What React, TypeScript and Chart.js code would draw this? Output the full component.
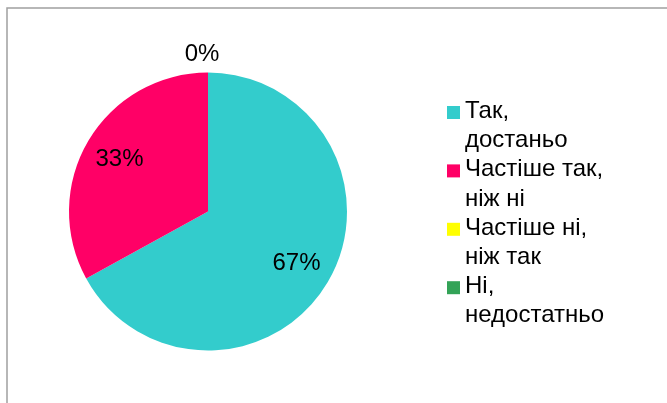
import React, { useEffect, useRef } from "react";
import { Chart, registerables } from "chart.js";

Chart.register(...registerables);

const categories: string[][] = [
  ["Так,", "достаньо"],
  ["Частіше так,", "ніж ні"],
  ["Частіше ні,", "ніж так"],
  ["Ні,", "недостатньо"],
];
const values: number[] = [67, 33, 0, 0];
const colors: string[] = ["#33CCCC", "#FF0066", "#FFFF00", "#33A357"];

const FONT = '24px "Liberation Sans", Arial, sans-serif';

const framePlugin = {
  id: "frame",
  beforeDraw(chart: any) {
    const ctx = chart.ctx;
    ctx.save();
    ctx.fillStyle = "#ffffff";
    ctx.fillRect(0, 0, chart.width, chart.height);
    ctx.strokeStyle = "#a0a0a0";
    ctx.lineWidth = 1.5;
    ctx.strokeRect(7, 8, chart.width + 20, chart.height + 20);
    ctx.restore();
  },
};

const labelPlugin = {
  id: "pctLabels",
  afterDatasetsDraw(chart: any) {
    const ctx = chart.ctx;
    const meta = chart.getDatasetMeta(0);
    const data: number[] = chart.data.datasets[0].data;
    const total = data.reduce((a, b) => a + b, 0);
    const seen = new Set<string>();
    ctx.save();
    ctx.font = FONT;
    ctx.fillStyle = "#000000";
    ctx.textAlign = "center";
    ctx.textBaseline = "middle";
    meta.data.forEach((arc: any, i: number) => {
      const p = arc.getProps(["x", "y", "startAngle", "endAngle", "outerRadius"], true);
      const mid = (p.startAngle + p.endAngle) / 2;
      const v = data[i];
      let r: number;
      let dx = 0;
      if (v > 0) {
        r = p.outerRadius * 0.74;
      } else {
        r = p.outerRadius + 18;
        dx = -6;
      }
      const tx = p.x + Math.cos(mid) * r + dx;
      const ty = p.y + Math.sin(mid) * r;
      const key = Math.round(tx) + "," + Math.round(ty);
      if (seen.has(key)) return;
      seen.add(key);
      ctx.fillText(Math.round((v / total) * 100) + "%", tx, ty);
    });
    ctx.restore();
  },
};

const legendPlugin = {
  id: "customLegend",
  afterDraw(chart: any) {
    const ctx = chart.ctx;
    const x0 = 447;
    const base0 = 118;
    const lineH = 29.2;
    ctx.save();
    ctx.font = FONT;
    ctx.textAlign = "left";
    ctx.textBaseline = "alphabetic";
    let line = 0;
    categories.forEach((lines, i) => {
      const b = base0 + line * lineH;
      ctx.fillStyle = colors[i];
      ctx.fillRect(x0, b - 12, 13, 13);
      ctx.fillStyle = "#000000";
      lines.forEach((t) => {
        ctx.fillText(t, x0 + 18, base0 + line * lineH);
        line++;
      });
    });
    ctx.restore();
  },
};

export default function App() {
  const ref = useRef<HTMLCanvasElement | null>(null);
  useEffect(() => {
    if (!ref.current) return;
    const chart = new Chart(ref.current, {
      type: "pie",
      data: {
        labels: categories.map((c) => c.join(" ")),
        datasets: [
          {
            data: values,
            backgroundColor: colors,
            borderWidth: 0,
          },
        ],
      },
      options: {
        animation: false,
        responsive: false,
        devicePixelRatio: 1,
        layout: { padding: { left: 69, right: 320, top: 72, bottom: 52 } },
        plugins: {
          legend: { display: false },
          tooltip: { enabled: false },
        },
      },
      plugins: [framePlugin, labelPlugin, legendPlugin],
    });
    return () => chart.destroy();
  }, []);
  return (
    <div style={{ position: "absolute", left: 0, top: 0, width: 667, height: 403, background: "#fff" }}>
      <canvas ref={ref} width={667} height={403} style={{ display: "block" }} />
    </div>
  );
}
